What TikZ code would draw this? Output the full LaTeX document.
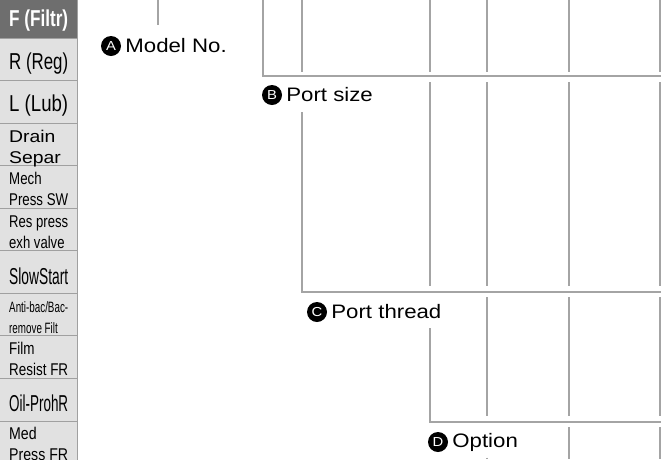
\documentclass[tikz,border=0pt]{standalone}
\usepackage{fontspec}
\setmainfont{Liberation Sans}[FakeStretch=1.14]
\usepackage{graphicx}
\usetikzlibrary{positioning}
\definecolor{liniengrau}{HTML}{A4A4A4}
\definecolor{zellgrau}{HTML}{E1E1E1}
\definecolor{zellrand}{HTML}{A0A0A0}
\definecolor{kopfgrau}{HTML}{6E6E6E}
\newcommand{\passend}[1]{\resizebox{59pt}{\height}{#1}}
\newcommand{\zweizeilig}[1]{\begin{tabular}{@{}l@{}}#1\end{tabular}}
\begin{document}
\begin{tikzpicture}[x=1pt, y=-1pt,
        linie/.style={draw=liniengrau, line width=2pt},
        zelle/.style={draw=zellrand, line width=1pt, fill=zellgrau, minimum width=77.5pt, minimum height=42.55pt, anchor=north west, inner sep=0pt},
        zelltext/.style={anchor=west, inner xsep=10pt, inner ysep=0pt, yshift=-4pt},
        gross/.style={font=\fontsize{23}{23}\selectfont},
        klein/.style={font=\fontsize{17}{21}\selectfont},
        kreis/.style={circle, fill=black, text=white, inner sep=0pt, minimum size=20pt, font=\fontsize{13}{13}\selectfont},
        etikett/.style={inner sep=0pt, font=\fontsize{19.5}{19.5}\selectfont}]
    \useasboundingbox (0,0) rectangle (661,459);
    % Seitenleiste
    \node (zF)   [zelle, fill=kopfgrau] at (-1, -5)     {};
    \node (zR)   [zelle] at (-1, 37.55)  {};
    \node (zL)   [zelle] at (-1, 80.1)   {};
    \node (zD)   [zelle] at (-1, 122.65) {};
    \node (zM)   [zelle] at (-1, 165.2)  {};
    \node (zRes) [zelle] at (-1, 207.75) {};
    \node (zS)   [zelle] at (-1, 250.3)  {};
    \node (zA)   [zelle] at (-1, 292.85) {};
    \node (zFi)  [zelle] at (-1, 335.4)  {};
    \node (zO)   [zelle] at (-1, 377.95) {};
    \node (zMed) [zelle] at (-1, 420.5)  {};
    \node (tF)   [zelltext, gross, text=white] at (zF.west) {\passend{\bfseries F (Filtr)}};
    \node (tR)   [zelltext, gross] at (zR.west)   {\passend{R (Reg)}};
    \node (tL)   [zelltext, gross] at (zL.west)   {\passend{L (Lub)}};
    \node (tD)   [zelltext, klein] at (zD.west)   {\zweizeilig{Drain\\Separ}};
    \node (tM)   [zelltext, klein] at (zM.west)   {\passend{\zweizeilig{Mech\\Press SW}}};
    \node (tRes) [zelltext, klein] at (zRes.west) {\passend{\zweizeilig{Res press\\exh valve}}};
    \node (tS)   [zelltext, gross] at (zS.west)   {\passend{SlowStart}};
    \node (tA)   [zelltext, font=\fontsize{15}{21}\selectfont] at (zA.west) {\passend{\zweizeilig{Anti-bac/Bac-\\remove Filt}}};
    \node (tFi)  [zelltext, klein] at (zFi.west)  {\passend{\zweizeilig{Film\\Resist FR}}};
    \node (tO)   [zelltext, gross] at (zO.west)   {\passend{Oil-ProhR}};
    \node (tMed) [zelltext, klein] at (zMed.west) {\passend{\zweizeilig{Med\\Press FR}}};
    % Model No.
    \draw [linie] (158,0) -- (158,25);
    \node (kA) [kreis] at (111,46) {A};
    \node (lA) [etikett, right=4pt of kA] {Model No.};
    \draw [linie] (263,0) |- (661,76);
    \draw [linie] (302,0) -- (302,72) (430,0) -- (430,72) (487,0) -- (487,72)
                  (569,0) -- (569,72) (660,0) -- (660,72);
    % Port size
    \node (kB) [kreis] at (272,95) {B};
    \node (lB) [etikett, right=4pt of kB] {Port size};
    \draw [linie] (302,112) |- (661,292);
    \draw [linie] (430,82) -- (430,286) (487,82) -- (487,286)
                  (569,82) -- (569,286) (660,82) -- (660,286);
    % Port thread
    \node (kC) [kreis] at (317,312) {C};
    \node (lC) [etikett, right=4pt of kC] {Port thread};
    \draw [linie] (430,328) |- (661,421.5);
    \draw [linie] (487,297) -- (487,416) (569,297) -- (569,416) (660,297) -- (660,416);
    % Option
    \node (kD) [kreis] at (438,442) {D};
    \node (lD) [etikett, right=4pt of kD] {Option};
    \draw [linie] (569,427) -- (569,459) (660,427) -- (660,459) (487,457.5) -- (487,459);
\end{tikzpicture}
\end{document}
